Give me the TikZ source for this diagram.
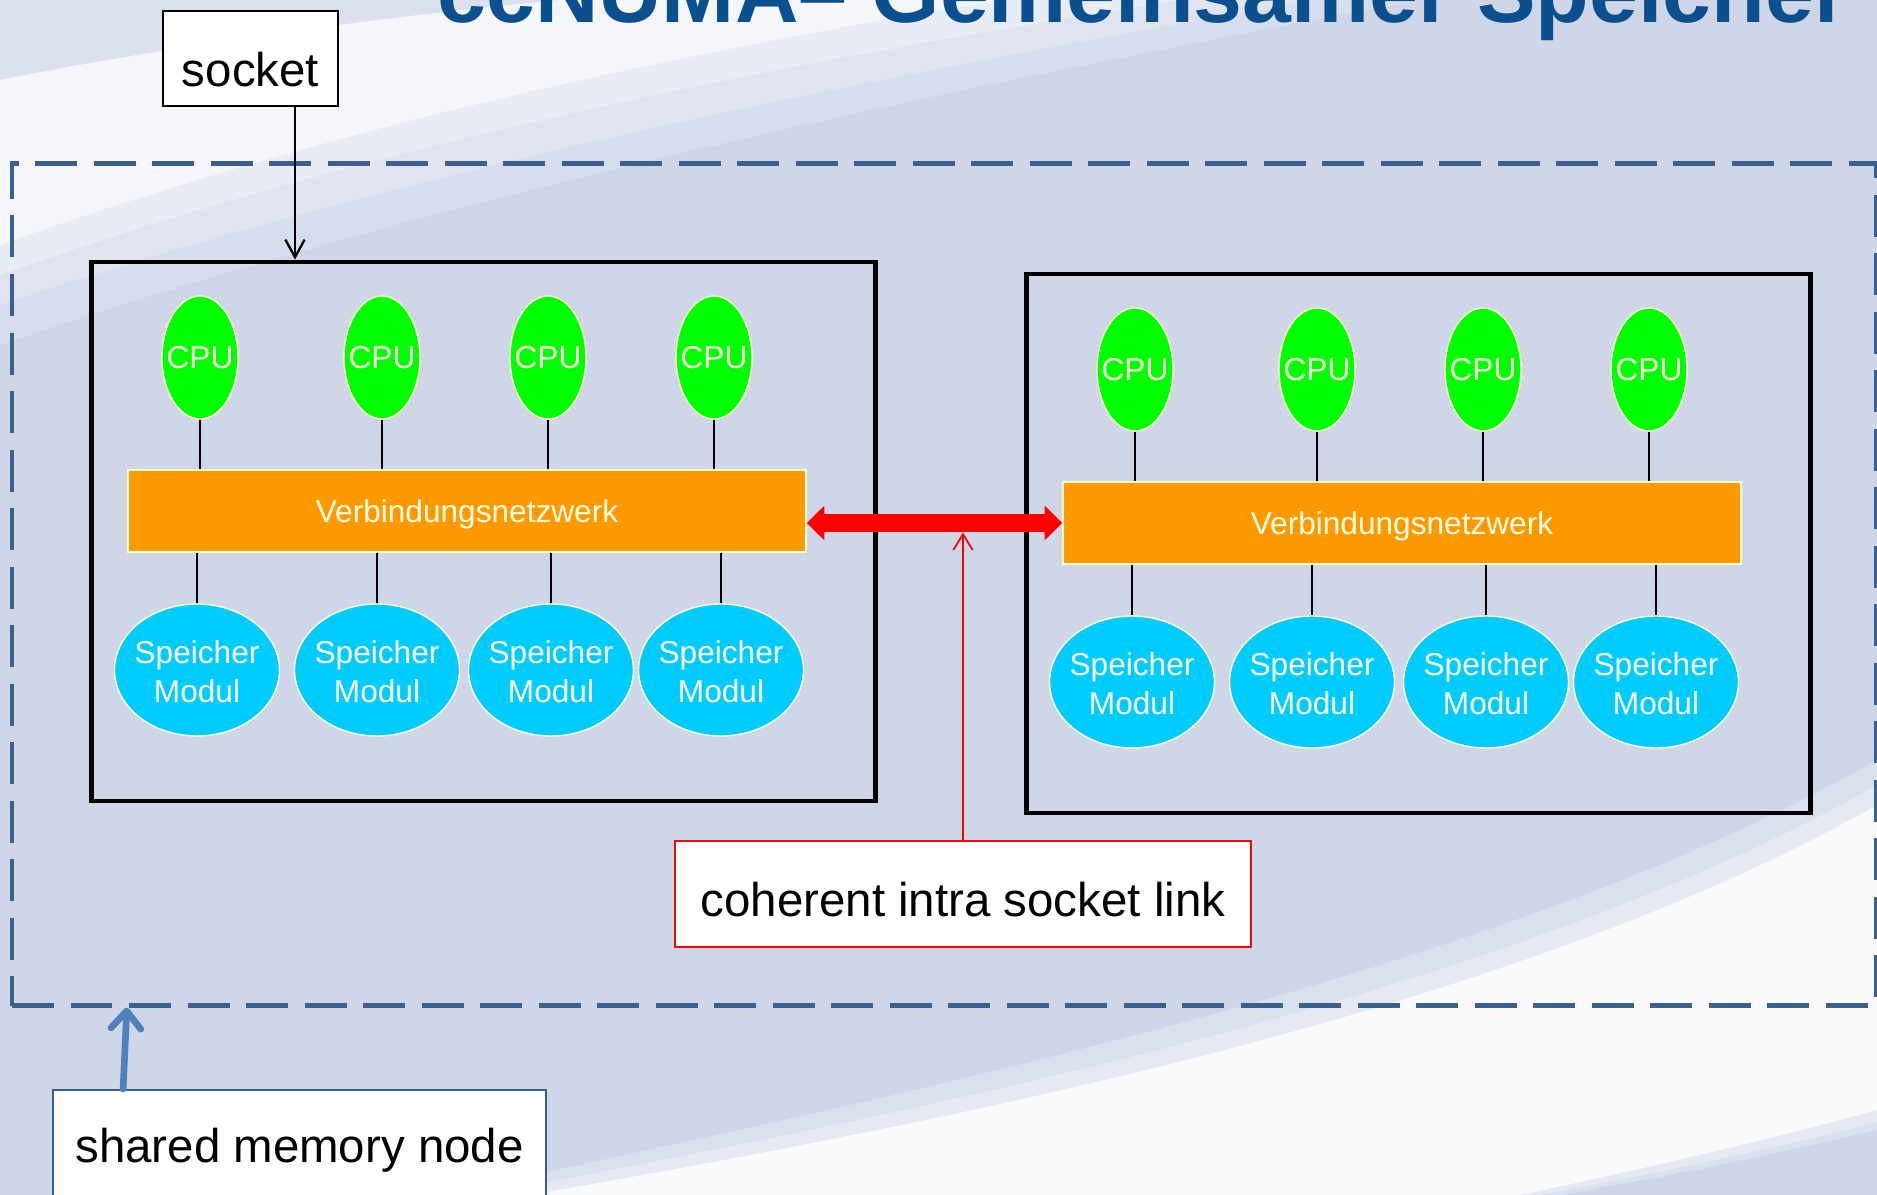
\documentclass[tikz,border=0pt]{standalone}
\usepackage{fontspec}
\setmainfont{Liberation Sans}
\usetikzlibrary{arrows.meta,shapes.geometric,calc}
\newlength\pxu
\setlength\pxu{0.02cm}
\newcommand\zerow[1]{\makebox[0pt]{#1}}
\definecolor{bgc}{HTML}{CED6E8}
\definecolor{dashc}{HTML}{3B5F8F}
\definecolor{titlec}{HTML}{0B4F8F}
\definecolor{cpuc}{HTML}{00FF00}
\definecolor{barc}{HTML}{FF9900}
\definecolor{memc}{HTML}{00CCFF}
\definecolor{edgec}{HTML}{FFFFCC}
\definecolor{txtc}{HTML}{FFFFE5}
\definecolor{bluearr}{HTML}{4F81BD}
\definecolor{smnc}{HTML}{385D8A}
\tikzset{
  infont/.style={font=\fontsize{18}{21.8}\selectfont},
  cpu/.style={ellipse, fill=cpuc, draw=edgec, line width=0.8pt, minimum width=76\pxu, minimum height=123\pxu, inner sep=0pt, text=txtc, infont},
  mem/.style={ellipse, fill=memc, draw=edgec, line width=0.8pt, minimum width=165\pxu, minimum height=132\pxu, inner sep=0pt, text=txtc, infont, text height=31.6pt, text depth=17pt},
  barbox/.style={rectangle, fill=barc, draw=edgec, line width=0.8pt, minimum width=678\pxu, minimum height=82\pxu, inner sep=0pt, text=txtc, infont, text height=13.3pt, text depth=0pt},
  sockbox/.style={rectangle, draw=black, line width=2.8pt, minimum width=784\pxu, minimum height=539\pxu, inner sep=0pt},
  outerbox/.style={rectangle, draw=dashc, line width=2.45pt, dash pattern=on 23.9pt off 9.4pt, minimum width=1864\pxu, minimum height=842\pxu, inner sep=0pt},
  lbl/.style={rectangle, fill=white, inner sep=0pt, text=black, font=\fontsize{27}{32}\selectfont},
  wire/.style={draw=black, line width=1.1pt},
  linkarrow/.style={draw=red, line width=10.8pt, {Triangle[length=10pt,width=19pt]}-{Triangle[length=10pt,width=19pt]}},
  redpointer/.style={draw=red, line width=1pt, -{Straight Barb[length=9pt,width=11pt]}},
  blackpointer/.style={draw=black, line width=1.3pt, -{Straight Barb[length=10pt,width=11pt]}},
  bluepointer/.style={draw=bluearr, line width=3.8pt, line cap=round, -{Straight Barb[length=10pt,width=17pt,round]}},
}
\newcommand\drawsock[3]{%
  \node[sockbox] (box#1) at ({483.5+#2},{531.5+#3}) {};
  \node[barbox] (bar#1) at ({467+#2},{511+#3}) {Verbindungsnetzwerk};
  \foreach \i/\cx/\mx in {1/200/197, 2/382/377, 3/548/551, 4/714/721} {
    \node[cpu] (cpu#1\i) at ({\cx+#2},{357.5+#3}) {\zerow{CPU}};
    \node[mem] (mem#1\i) at ({\mx+#2},{670+#3}) {\zerow{\begin{tabular}{@{}c@{}}Speicher\\Modul\end{tabular}}};
    \draw[wire] (cpu#1\i.south) -- (cpu#1\i.south |- bar#1.north);
    \draw[wire] (bar#1.south -| mem#1\i.north) -- (mem#1\i.north);
  }
}
\begin{document}
\begin{tikzpicture}[x=0.02cm,y=-0.02cm]
\useasboundingbox (0,0) rectangle (1877,1195);
\clip (0,0) rectangle (1877,1195);
% background
\fill[bgc] (0,0) rectangle (1877,1195);
\fill[white, opacity=0.25] (0,0) -- (560,0) .. controls (350,20) and (150,50) .. (0,80) -- cycle;
\fill[white, opacity=0.18] (0,80) .. controls (150,50) and (350,20) .. (560,0) -- (1420,0) .. controls (960,85) and (420,200) .. (0,345) -- cycle;
\fill[white, opacity=0.22] (0,80) .. controls (150,50) and (350,20) .. (560,0) -- (1320,0) .. controls (900,70) and (400,170) .. (0,305) -- cycle;
\fill[white, opacity=0.3] (0,80) .. controls (150,50) and (350,20) .. (560,0) -- (1180,0) .. controls (800,60) and (380,140) .. (0,275) -- cycle;
\fill[white, opacity=0.55] (0,80) .. controls (150,50) and (350,20) .. (560,0) -- (1000,0) .. controls (700,50) and (350,120) .. (0,245) -- cycle;
\fill[white, opacity=0.25] (440,1195) .. controls (900,1095) and (1500,975) .. (1877,760) -- (1877,1130) .. controls (1750,1160) and (1620,1185) .. (1560,1195) -- cycle;
\fill[white, opacity=0.3] (480,1195) .. controls (900,1115) and (1500,1000) .. (1877,785) -- (1877,1122) .. controls (1750,1155) and (1610,1182) .. (1540,1195) -- cycle;
\fill[white, opacity=0.8] (530,1195) .. controls (900,1130) and (1500,1020) .. (1877,805) -- (1877,1110) .. controls (1750,1145) and (1600,1178) .. (1520,1195) -- cycle;
% title (cut off at the top, as in the slide)
\node[anchor=base west, inner sep=0pt, text=titlec, font=\fontsize{50}{60}\selectfont\bfseries] (title) at (437,23) {ccNUMA– Gemeinsamer Speicher};
% outer shared memory node
\node[outerbox] (outer) at (944,584.5) {};
% sockets
\drawsock{L}{0}{0}
\drawsock{R}{935}{12}
% link
\draw[linkarrow] (barL.east |- barR.west) -- (barR.west);
% labels
\node[lbl, draw=black, line width=1.2pt, minimum width=175\pxu, minimum height=95\pxu, text height=32.2pt, text depth=0pt] (socket) at (250.5,58.5) {socket};
\coordinate (sa) at ($(socket.south)+(44.5,0)$);
\draw[blackpointer] (sa) -- (sa |- boxL.north);
\node[lbl, draw=red, line width=1.2pt, minimum width=576\pxu, minimum height=106\pxu, text height=25.4pt, text depth=0pt] (cl) at (963,894) {coherent intra socket link};
\coordinate (lb) at ($(cl.north |- barR.west)+(0,9.5)$);
\draw[redpointer] (cl.north) -- (lb);
\node[lbl, draw=smnc, line width=1pt, minimum width=493\pxu, minimum height=116\pxu, text height=16.8pt, text depth=0pt] (smn) at (299.5,1148) {shared memory node};
\coordinate (bs) at ($(smn.north west)+(71,0)$);
\coordinate (be) at ($(outer.south west)+(117,0)$);
\draw[bluepointer] (bs) -- (be);
\end{tikzpicture}
\end{document}
